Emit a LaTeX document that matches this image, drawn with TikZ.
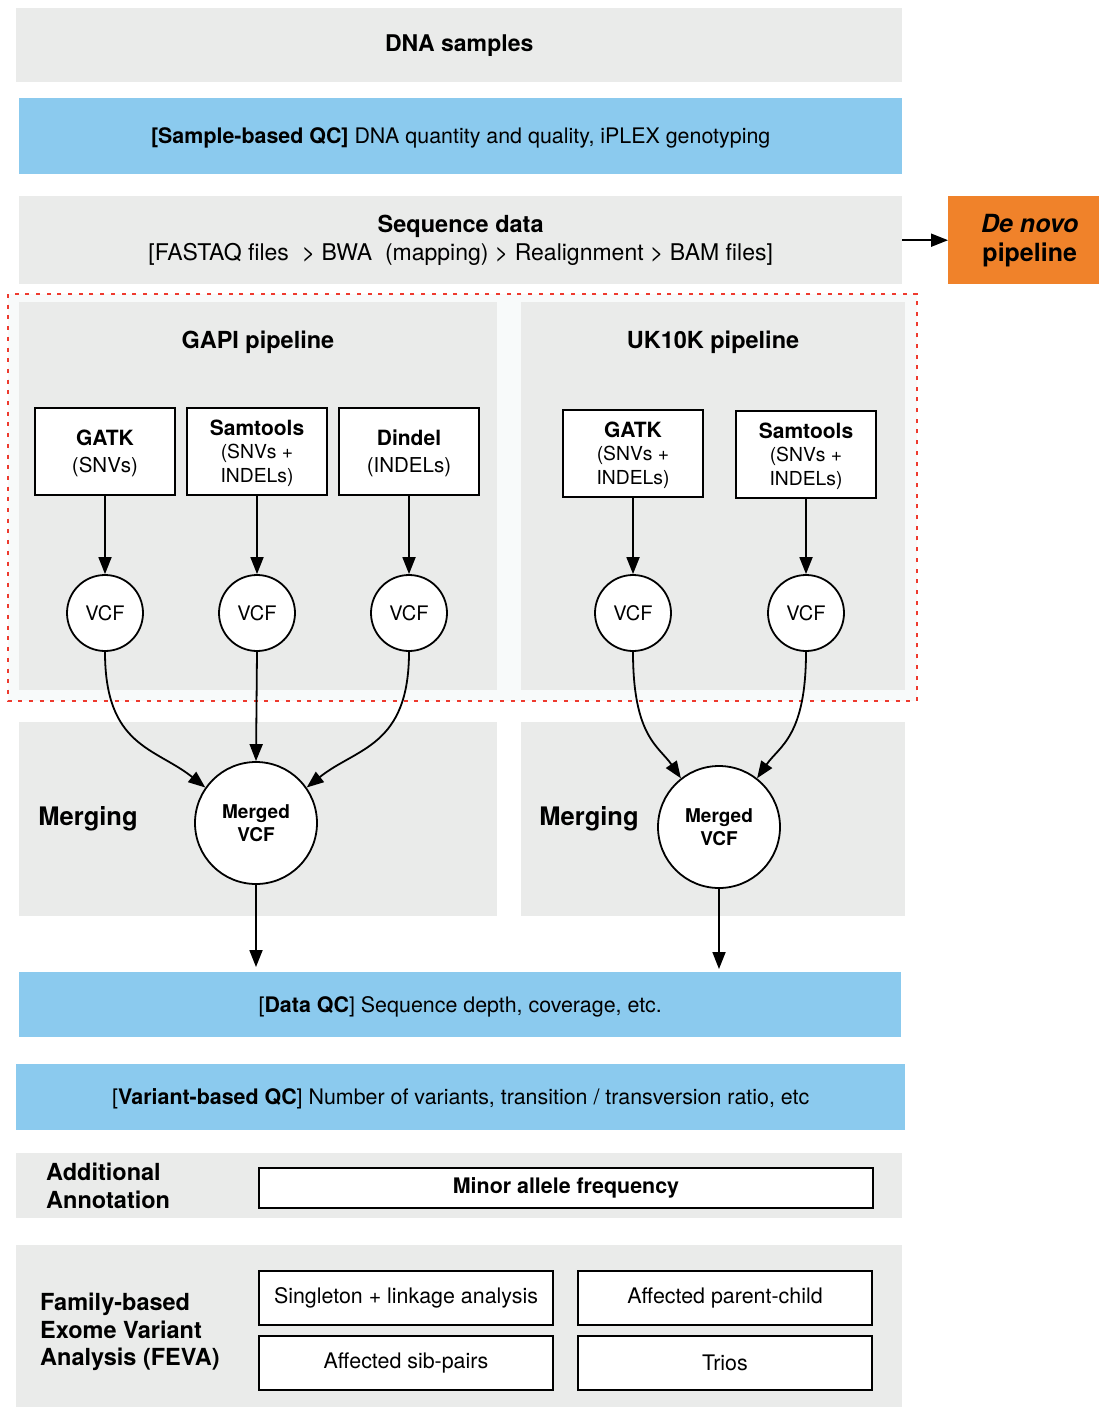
\documentclass[tikz,border=0pt]{standalone}
\usepackage{fontspec}
\setmainfont{TeX Gyre Heros}
\usetikzlibrary{arrows.meta}

\definecolor{panelgray}{HTML}{EAEBEA}
\definecolor{qcblue}{HTML}{8BCAEE}
\definecolor{novoorange}{HTML}{F0822A}
\definecolor{boxred}{HTML}{EE3A2E}
\definecolor{pipewhite}{HTML}{F8FAFA}

\newcommand{\fsz}[2]{\fontsize{#1}{#2}\selectfont}
\newcommand{\toolname}[1]{{\fsz{21}{24}\bfseries #1}}

\begin{document}
\begin{tikzpicture}[x=1pt, y=-1pt,
		panel/.style={fill=panelgray, inner sep=0pt, anchor=north west},
		qcbar/.style={fill=qcblue, inner sep=0pt, anchor=north west, font=\fsz{21.4}{25},
			text height=15pt, text depth=0pt},
		tool/.style={draw, line width=2pt, fill=white, minimum width=140pt, minimum height=87pt,
			align=center, inner sep=0pt, text depth=0pt, font=\fsz{20.5}{27}},
		tool3/.style={tool, font=\fsz{19.3}{23.5}},
		vcf/.style={circle, draw, line width=1.8pt, fill=white, minimum size=76pt, inner sep=0pt, font=\fsz{20}{23}},
		merged/.style={circle, draw, line width=1.8pt, fill=white, minimum size=122pt, inner sep=0pt,
			align=center, font=\fsz{19}{23}\bfseries},
		choice/.style={draw, line width=2pt, fill=white, minimum width=294pt, minimum height=54pt,
			inner sep=0pt, anchor=north west, font=\fsz{21.4}{25}},
		title/.style={font=\fsz{23.5}{27.5}\bfseries, inner sep=0pt},
		arr/.style={line width=1.8pt, -{Triangle[length=17pt,width=13pt]}}]

		\path[fill=white, use as bounding box] (0,0) rectangle (1099,1407);

		% top of the workflow
		\node[panel, minimum width=886pt, minimum height=74pt, font=\fsz{23}{27}\bfseries] (dna) at (16,8) {DNA samples};
		\node[qcbar, minimum width=883pt, minimum height=76pt] (sampleqc) at (19,98)
			{\textbf{[Sample-based QC]} DNA quantity and quality, iPLEX genotyping};
		\node[panel, minimum width=883pt, minimum height=88pt, align=center, font=\fsz{23}{28.5}] (seq) at (19,196)
			{{\fsz{23.5}{28.5}\bfseries Sequence data}\\ {[}FASTAQ files~~> BWA~~(mapping) > Realignment > BAM files{]}};
		\node[fill=novoorange, minimum width=151pt, minimum height=88pt, anchor=north west, inner sep=0pt,
			align=center, font=\fsz{25}{29}\bfseries] (denovo) at (948,196)
			{\hspace*{12pt}\textit{De novo}\\\hspace*{12pt}pipeline};
		\draw[arr] (seq.east) -- (denovo.west);

		% the two pipelines
		\draw[boxred, fill=pipewhite, line width=2.6pt, dash pattern=on 4pt off 6.7pt] (8,294) rectangle (917,701);
		\node[panel, minimum width=478pt, minimum height=388pt] (gapi) at (19,302) {};
		\node[panel, minimum width=384pt, minimum height=388pt] (ukk) at (521,302) {};
		\node[title] (gapititle) at (258,342) {GAPI pipeline};
		\node[title] (ukktitle) at (713,342) {UK10K pipeline};

		\node[tool] (gatkA) at (105,451) {\toolname{GATK}\\(SNVs)};
		\node[tool3] (samA) at (257,451) {\toolname{Samtools}\\(SNVs +\\INDELs)};
		\node[tool] (dindel) at (409,451) {\toolname{Dindel}\\(INDELs)};
		\node[tool3] (gatkB) at (633,453) {\toolname{GATK}\\(SNVs +\\INDELs)};
		\node[tool3] (samB) at (806,454) {\toolname{Samtools}\\(SNVs +\\INDELs)};

		\node[vcf] (vcfA) at (105,613) {VCF};
		\node[vcf] (vcfB) at (257,613) {VCF};
		\node[vcf] (vcfC) at (409,613) {VCF};
		\node[vcf] (vcfD) at (633,613) {VCF};
		\node[vcf] (vcfE) at (806,613) {VCF};

		\draw[arr] (gatkA) -- (vcfA);
		\draw[arr] (samA) -- (vcfB);
		\draw[arr] (dindel) -- (vcfC);
		\draw[arr] (gatkB) -- (vcfD);
		\draw[arr] (samB) -- (vcfE);

		% merging
		\node[panel, minimum width=478pt, minimum height=194pt] (mergingA) at (19,722) {};
		\node[panel, minimum width=384pt, minimum height=194pt] (mergingB) at (521,722) {};
		\node[font=\fsz{25.5}{30}\bfseries] (mlabelA) at (88,819) {Merging};
		\node[font=\fsz{25.5}{30}\bfseries] (mlabelB) at (589,819) {Merging};
		\node[merged] (mergeA) at (256,823) {Merged\\VCF};
		\node[merged] (mergeB) at (719,827) {Merged\\VCF};

		\draw[arr] (vcfA.south) .. controls +(0,95) and +(-50,-40) .. (mergeA.145);
		\draw[arr] (vcfB.south) -- (mergeA.north);
		\draw[arr] (vcfC.south) .. controls +(0,95) and +(50,-40) .. (mergeA.35);
		\draw[arr] (vcfD.south) .. controls +(0,85) and +(-22,-32) .. (mergeB.128);
		\draw[arr] (vcfE.south) .. controls +(0,85) and +(22,-32) .. (mergeB.52);

		% quality control and analysis
		\node[qcbar, minimum width=882pt, minimum height=65pt] (dataqc) at (19,972)
			{[\textbf{Data QC}] Sequence depth, coverage, etc.};
		\draw[arr, shorten >=5pt] (mergeA.south) -- (mergeA.south |- dataqc.north);
		\draw[arr, shorten >=3pt] (mergeB.south) -- (mergeB.south |- dataqc.north);

		\node[qcbar, minimum width=889pt, minimum height=66pt] (variantqc) at (16,1064)
			{[\textbf{Variant-based QC}] Number of variants, transition / transversion ratio, etc};

		\node[panel, minimum width=886pt, minimum height=65pt] (annot) at (16,1153) {};
		\node[title, align=left, anchor=west] (annotlabel) at (46,1186) {Additional\\Annotation};
		\node[choice, minimum width=614pt, minimum height=40pt, font=\fsz{21.4}{25}\bfseries] (maf) at (258,1167)
			{Minor allele frequency};

		\node[panel, minimum width=886pt, minimum height=162pt] (feva) at (16,1245) {};
		\node[title, align=left, anchor=west] (fevalabel) at (40,1332)
			{Family-based\\Exome Variant\\Analysis (FEVA)};
		\node[choice] (single) at (258,1270) {Singleton + linkage analysis};
		\node[choice] (parent) at (577,1270) {Affected parent-child};
		\node[choice] (sibs) at (258,1335) {Affected sib-pairs};
		\node[choice] (trios) at (577,1335) {Trios};
	\end{tikzpicture}
\end{document}
